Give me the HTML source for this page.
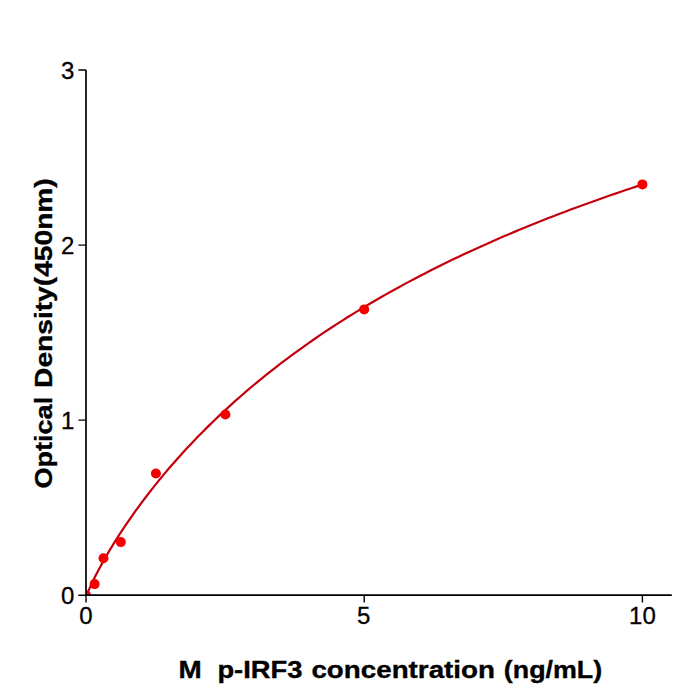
<!DOCTYPE html>
<html><head><meta charset="utf-8">
<style>
html,body{margin:0;padding:0;background:#fff;}
body{width:700px;height:700px;overflow:hidden;}
svg{display:block;}
text{font-family:"Liberation Sans",sans-serif;fill:#000;}
.tk{font-size:24px;stroke:#000;stroke-width:0.3px;}
.lb{font-size:24px;font-weight:bold;stroke:#000;stroke-width:0.35px;}
</style></head><body>
<svg width="700" height="700" viewBox="0 0 700 700">
<defs><clipPath id="ax"><rect x="86" y="60" width="586" height="535.2"/></clipPath></defs>
<g clip-path="url(#ax)">
<path d="M86.00,597.48 L87.11,594.21 L88.23,591.44 L89.34,588.83 L90.45,586.34 L91.56,583.93 L92.68,581.58 L93.79,579.29 L94.90,577.05 L96.02,574.85 L97.13,572.69 L98.24,570.56 L99.35,568.47 L100.47,566.40 L101.58,564.37 L102.69,562.36 L103.80,560.37 L104.92,558.41 L106.03,556.47 L107.14,554.55 L108.26,552.65 L109.37,550.77 L110.48,548.91 L111.59,547.07 L112.71,545.24 L113.82,543.43 L119.38,534.63 L124.95,526.17 L130.51,518.04 L136.08,510.18 L141.64,502.58 L147.20,495.22 L152.77,488.07 L158.33,481.14 L163.90,474.39 L169.46,467.82 L175.02,461.42 L180.59,455.18 L186.15,449.09 L191.72,443.15 L197.28,437.35 L202.84,431.68 L208.41,426.13 L213.97,420.70 L219.54,415.39 L225.10,410.19 L230.66,405.10 L236.23,400.11 L241.79,395.22 L247.36,390.42 L252.92,385.72 L258.48,381.10 L264.05,376.57 L269.61,372.13 L275.18,367.76 L280.74,363.47 L286.30,359.26 L291.87,355.12 L297.43,351.05 L303.00,347.05 L308.56,343.12 L314.12,339.25 L319.69,335.44 L325.25,331.70 L330.82,328.01 L336.38,324.39 L341.94,320.82 L347.51,317.30 L353.07,313.84 L358.64,310.43 L364.20,307.07 L369.76,303.76 L375.33,300.50 L380.89,297.29 L386.46,294.12 L392.02,291.00 L397.58,287.92 L403.15,284.88 L408.71,281.89 L414.28,278.94 L419.84,276.02 L425.40,273.15 L430.97,270.31 L436.53,267.52 L442.10,264.75 L447.66,262.03 L453.22,259.34 L458.79,256.68 L464.35,254.06 L469.92,251.47 L475.48,248.91 L481.04,246.39 L486.61,243.89 L492.17,241.43 L497.74,239.00 L503.30,236.59 L508.86,234.21 L514.43,231.87 L519.99,229.54 L525.56,227.25 L531.12,224.98 L536.68,222.74 L542.25,220.53 L547.81,218.34 L553.38,216.17 L558.94,214.03 L564.50,211.91 L570.07,209.81 L575.63,207.74 L581.20,205.69 L586.76,203.67 L592.32,201.66 L597.89,199.68 L603.45,197.71 L609.02,195.77 L614.58,193.85 L620.14,191.95 L625.71,190.06 L631.27,188.20 L636.84,186.36 L642.40,184.53" fill="none" stroke="#c4000e" stroke-width="2.2" stroke-linejoin="round"/>
<g fill="#f50000">
<circle cx="86" cy="595.2" r="5"/>
<circle cx="94.6" cy="584.1" r="5"/>
<circle cx="103.5" cy="558.2" r="5"/>
<circle cx="120.8" cy="542.1" r="5"/>
<circle cx="155.9" cy="473.5" r="5"/>
<circle cx="225.4" cy="414.5" r="5"/>
<circle cx="364.2" cy="309.4" r="5"/>
<circle cx="642.4" cy="184.4" r="5"/>
</g>
</g>
<g stroke="#000" fill="none">
<path d="M86,70 V595.2 H671.8" stroke-width="1.7"/>
<path d="M78.4,70 H86 M78.4,245.1 H86 M78.4,420.1 H86 M78.4,595.2 H86 M86,595.2 V602.6 M364.2,595.2 V602.6 M642.4,595.2 V602.6" stroke-width="1.4"/>
</g>
<g class="tk" text-anchor="end">
<text x="74.3" y="78.7">3</text>
<text x="74.3" y="253.9">2</text>
<text x="74.3" y="428.9">1</text>
<text x="74.3" y="604">0</text>
</g>
<g class="tk" text-anchor="middle">
<text x="86" y="623.5">0</text>
<text x="363.6" y="623.5">5</text>
<text x="642.4" y="623.5">10</text>
</g>
<g class="lb">
<text x="178.4" y="677.6" textLength="23.2" lengthAdjust="spacingAndGlyphs">M</text>
<text x="217.4" y="677.6" textLength="85.05" lengthAdjust="spacingAndGlyphs">p-IRF3</text>
<text x="311.4" y="677.6" textLength="183.6" lengthAdjust="spacingAndGlyphs">concentration</text>
<text x="503.8" y="677.6" textLength="98.4" lengthAdjust="spacingAndGlyphs">(ng/mL)</text>
</g>
<g class="lb" transform="translate(52.4,0) rotate(-90)">
<text x="-488.6" y="0" textLength="91.8" lengthAdjust="spacingAndGlyphs">Optical</text>
<text x="-387.95" y="0" textLength="209.7" lengthAdjust="spacingAndGlyphs">Density(450nm)</text>
</g>
</svg>
</body></html>
